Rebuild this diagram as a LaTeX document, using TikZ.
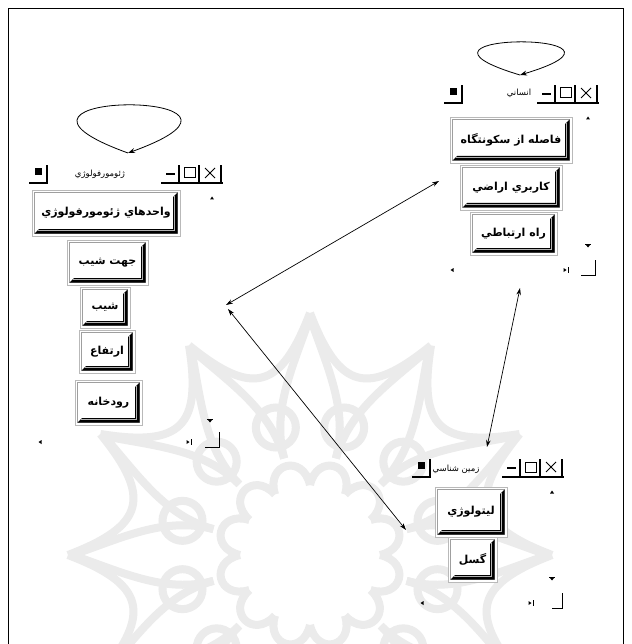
\documentclass[tikz,border=0pt]{standalone}
\usepackage{fontspec}
\newfontfamily\fa[Script=Arabic]{DejaVu Sans}
\TeXXeTstate=1
\usetikzlibrary{arrows.meta,calc}
\newcommand\FA[1]{\fa\beginR #1\endR}
\newcommand\sysbox[2]{%
  \draw[line width=1.1pt] (#1,#2) -- ++(18,0) -- ++(0,-18);
  \fill (#1+6,#2-15) rectangle ++(7,7);
}
\newcommand\ctrlbar[2]{%
  \draw[line width=1.1pt] (#1,#2) -- ++(62,0);
  \draw[line width=1.6pt] (#1+5,#2-9) -- ++(9,0);
  \foreach \dx in {18,38,60} {\draw[line width=1.1pt] (#1+\dx,#2) -- ++(0,-18);}
  \draw[line width=1pt] (#1+23,#2-15) rectangle ++(11,10);
  \draw[line width=1pt] (#1+44,#2-15) -- ++(10,10) (#1+44,#2-5) -- ++(10,-10);
}
\newcommand\scrollmarks[9]{%
  \fill (#1-2,#2+1.5) -- (#1,#2-1.5) -- (#1+2,#2+1.5) -- cycle;
  \draw[line width=0.7pt] (#3-3,#4-2) -- (#3+3,#4-2);
  \fill (#3-2,#4-1) -- (#3+2,#4-1) -- (#3,#4+1.5) -- cycle;
  \fill (#5+1.5,#6-2) -- (#5-1.5,#6) -- (#5+1.5,#6+2) -- cycle;
  \fill (#7-1.5,#6-2) -- (#7+1.5,#6) -- (#7-1.5,#6+2) -- cycle;
  \draw[line width=0.7pt] (#7+3,#6-3) -- (#7+3,#6+3);
  \draw[line width=1pt] (#8,#6+5) -- (#9,#6+5) -- (#9,#6-10);
}
\tikzset{
  btn/.style={fill=white, draw=gray!55, line width=0.7pt, inner sep=0pt,
    font=\fontsize{11}{12}\selectfont\bfseries,
    path picture={
      \draw[gray!75, line width=0.5pt]
        ([shift={(2.5pt,2.5pt)}]path picture bounding box.south west) rectangle
        ([shift={(-2.5pt,-2.5pt)}]path picture bounding box.north east);
      \fill[black]
        ([shift={(-2.5pt,-2.5pt)}]path picture bounding box.north east) --
        ([shift={(-2.5pt,2.5pt)}]path picture bounding box.south east) --
        ([shift={(2.5pt,2.5pt)}]path picture bounding box.south west) --
        ([shift={(7pt,7pt)}]path picture bounding box.south west) --
        ([shift={(-7pt,7pt)}]path picture bounding box.south east) --
        ([shift={(-7pt,-7pt)}]path picture bounding box.north east) -- cycle;
      \draw[gray!60, line width=0.6pt]
        ([shift={(-6pt,-6pt)}]path picture bounding box.north east) --
        ([shift={(-6pt,6pt)}]path picture bounding box.south east) --
        ([shift={(6pt,6pt)}]path picture bounding box.south west);
    }},
  ttl/.style={inner sep=0pt, font=\fontsize{8.5}{9}\selectfont},
  conn/.style={line width=0.7pt, {Stealth[length=7pt,width=4.5pt]}-{Stealth[length=7pt,width=4.5pt]}},
  loopst/.style={line width=0.8pt, -{Stealth[length=7pt,width=5pt]}},
  wm/.style={gray!16, line width=8pt}
}
\begin{document}
\begin{tikzpicture}[x=1pt,y=-1pt]
\useasboundingbox (0,0) rectangle (631,644);
\fill[white] (0,0) rectangle (631,644);
% watermark
\begin{scope}
\clip (8,8) rectangle (623,644);
\begin{scope}[shift={(310,555)}]
\foreach \k in {0,...,11} {
  \pgfmathsetmacro\a{\k*30}
  \draw[wm] (\a:242) .. controls (\a+10:168) and (\a+20:168) .. (\a+30:242);
  \draw[wm] (\a+15:132) circle[radius=20];
  \draw[wm] (\a:70) .. controls (\a+4:102) and (\a+26:102) .. (\a+30:70);
  \draw[wm] (\a+15:100) .. controls (\a+15:150) and (\a+5:190) .. (\a:238);
  \draw[wm] (\a+15:100) .. controls (\a+15:150) and (\a+25:190) .. (\a+30:238);
}
\end{scope}
\end{scope}
% frame
\draw[line width=0.8pt] (8,644) -- (8,8) -- (623,8) -- (623,644);

% ---- left window
\sysbox{29}{183}
\node[ttl] (tG) at (100,174) {\FA{ژئومورفولوژي}};
\ctrlbar{161}{183}
\node[btn, minimum width=148pt, minimum height=46pt] (g1) at (106,213) {\FA{واحدهاي ژئومورفولوژي}};
\node[btn, minimum width=81pt, minimum height=45pt] (g2) at (107.5,262.5) {\FA{جهت شيب}};
\node[btn, minimum width=50pt, minimum height=41pt] (g3) at (105,307.5) {\FA{شيب}};
\node[btn, minimum width=56pt, minimum height=43pt] (g4) at (107,351.5) {\FA{ارتفاع}};
\node[btn, minimum width=67pt, minimum height=45pt] (g5) at (108.5,402.5) {\FA{رودخانه}};
\scrollmarks{212}{198}{210}{421}{40}{442}{188}{205}{219}

% ---- top-right window
\sysbox{444}{103}
\node[ttl] (tH) at (519,93) {\FA{انساني}};
\ctrlbar{537}{103}
\node[btn, minimum width=122pt, minimum height=46pt] (h1) at (511,140) {\FA{فاصله از سکونتگاه}};
\node[btn, minimum width=102pt, minimum height=45pt] (h2) at (511,187.5) {\FA{کاربري اراضي}};
\node[btn, minimum width=87pt, minimum height=43pt] (h3) at (513.5,233.5) {\FA{راه ارتباطي}};
\scrollmarks{588}{118}{588}{246}{452}{270}{565}{581}{595}

% ---- bottom-right window
\sysbox{412}{477}
\node[ttl] (tZ) at (456,469) {\FA{زمين شناسي}};
\ctrlbar{502}{477}
\node[btn, minimum width=72pt, minimum height=50pt] (z1) at (471,512) {\FA{ليتولوژي}};
\node[btn, minimum width=49pt, minimum height=45pt] (z2) at (472.5,559.5) {\FA{گسل}};
\scrollmarks{552}{492}{552}{579}{422}{603}{530}{552}{562}

% ---- self loops
\coordinate (lpG) at (128,153);
\draw[loopst] (lpG) .. controls +(-177,-64) and +(177,-64) .. (lpG);
\coordinate (lpH) at (520,75);
\draw[loopst] (lpH) .. controls +(-147,-44) and +(147,-44) .. (lpH);

% ---- connectors
\coordinate (mG1) at (226,305);
\coordinate (mG2) at (228,309);
\coordinate (mH) at (439,181);
\coordinate (mHb) at (520,288);
\coordinate (mZ) at (406,530);
\coordinate (mZt) at (487,447);
\draw[conn] (mG1) -- (mH);
\draw[conn] (mG2) -- (mZ);
\draw[conn] (mHb) -- (mZt);
\end{tikzpicture}
\end{document}
